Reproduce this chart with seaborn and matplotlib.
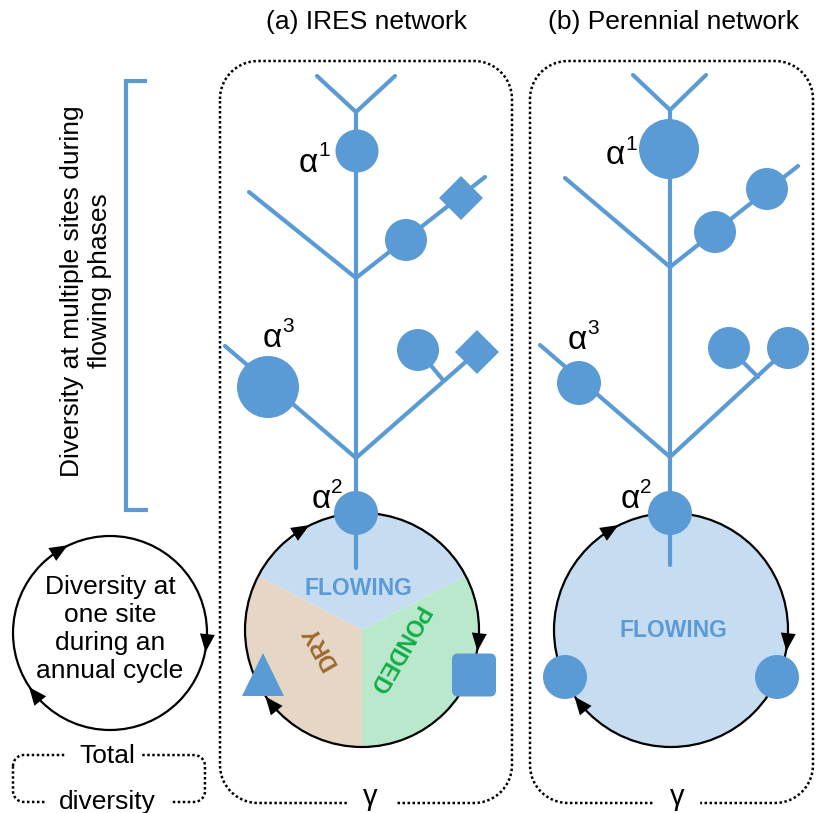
import numpy as np
import matplotlib
matplotlib.use("Agg")
import matplotlib.pyplot as plt
from matplotlib.patches import Circle, Wedge, Polygon, RegularPolygon, FancyBboxPatch
import seaborn as sns

sns.set_theme(style="white")
plt.rcParams['font.family'] = ['Liberation Sans', 'DejaVu Sans']
plt.rcParams['text.color'] = 'black'

BLUE = '#5b9bd5'

# ---- diagram content (pixel coordinates, y down)
titles = ['(a) IRES network', '(b) Perennial network']
title_x = [366, 673]

branches_a = [((317, 76), (356, 112)), ((395, 76), (356, 112)), ((356, 112), (356, 568)),
              ((356, 278), (249, 192)), ((356, 278), (485, 177)),
              ((356, 458), (225, 346)), ((356, 458), (477, 352)), ((443, 380), (418, 350))]
branches_b = [((633, 75), (670, 110)), ((706, 75), (670, 110)), ((670, 110), (670, 565)),
              ((670, 267), (565, 178)), ((670, 267), (798, 166)),
              ((670, 457), (540, 345)), ((670, 457), (788, 348)), ((758, 377), (729, 348))]

nodes_a = [('circle', 357, 151, 21.5), ('circle', 406, 240, 21), ('diamond', 461, 198, 22),
           ('circle', 268, 387, 31), ('circle', 418, 350, 21), ('diamond', 477, 352, 22),
           ('circle', 356, 513, 22)]
nodes_b = [('circle', 669, 149, 30), ('circle', 715, 232, 21), ('circle', 767, 189, 21),
           ('circle', 579, 383, 22), ('circle', 729, 348, 21), ('circle', 788, 348, 21),
           ('circle', 670, 513, 22)]

alpha_a = [('1', 308, 163), ('3', 272, 338), ('2', 321, 499)]
alpha_b = [('1', 615, 156), ('3', 577, 340), ('2', 630, 499)]

# annual cycle (phases of the IRES site)
phases = ['FLOWING', 'PONDED', 'DRY']
phase_bounds = [(207.5, 332.5), (-27.5, 90), (90, 207.5)]
phase_fill = ['#c6dcf1', '#b9e8cd', '#e5d6c6']
phase_text = [BLUE, '#12ad45', '#9c6a2e']
phase_xy = [(358, 588), (398, 650), (320, 647)]
phase_rot = [0, -120, 120]

cycle_a = (362, 630, 117)
cycle_b = (671, 630, 117)
cycle_left = (110, 633, 97)
arrow_t = [-121, 6, 141]

site_marks_a = [('triangle', 263, 675), ('square', 474, 675)]
site_marks_b = [('circle', 565, 677), ('circle', 777, 677)]

fig = plt.figure(figsize=(8.16, 8.13), dpi=100)
ax = fig.add_axes([0, 0, 1, 1])
ax.set_xlim(0, 816)
ax.set_ylim(813, 0)
ax.axis('off')


def rounded_outline(x0, y0, x1, y1, r, top_gap=None, bottom_gap=None):
    def arc(cx, cy, a0, a1):
        t = np.radians(np.linspace(a0, a1, 40))
        return np.c_[cx + r * np.cos(t), cy + r * np.sin(t)]
    n = 300
    pts = np.vstack([arc(x0 + r, y0 + r, 180, 270),
                     np.c_[np.linspace(x0 + r, x1 - r, n), np.full(n, y0)],
                     arc(x1 - r, y0 + r, 270, 360),
                     np.c_[np.full(n, x1), np.linspace(y0 + r, y1 - r, n)],
                     arc(x1 - r, y1 - r, 0, 90),
                     np.c_[np.linspace(x1 - r, x0 + r, n), np.full(n, y1)],
                     arc(x0 + r, y1 - r, 90, 180),
                     np.c_[np.full(n, x0), np.linspace(y1 - r, y0 + r, n)]])
    if top_gap:
        m = np.isclose(pts[:, 1], y0) & (pts[:, 0] > top_gap[0]) & (pts[:, 0] < top_gap[1])
        pts[m] = np.nan
    if bottom_gap:
        m = np.isclose(pts[:, 1], y1) & (pts[:, 0] > bottom_gap[0]) & (pts[:, 0] < bottom_gap[1])
        pts[m] = np.nan
    ax.plot(pts[:, 0], pts[:, 1], color='black', lw=1.8, ls=(0, (1, 1)), zorder=1)


def cycle(cx, cy, r):
    ax.add_patch(Circle((cx, cy), r, fill=False, ec='black', lw=1.6, zorder=2))
    L, W = 18, 15
    for t in np.radians(arrow_t):
        p = np.array([cx + r * np.cos(t), cy + r * np.sin(t)])
        d = np.array([-np.sin(t), np.cos(t)])
        nrm = np.array([np.cos(t), np.sin(t)])
        tip = p + d * L / 2
        base = p - d * L / 2
        ax.add_patch(Polygon([tip, base + nrm * W / 2, base - nrm * W / 2],
                             closed=True, fc='black', ec='none', zorder=5))


def network(branches, nodes, alphas):
    for (p, q) in branches:
        ax.plot([p[0], q[0]], [p[1], q[1]], color=BLUE, lw=3, solid_capstyle='round', zorder=3)
    for kind, x, y, r in nodes:
        if kind == 'circle':
            ax.add_patch(Circle((x, y), r, fc=BLUE, ec='none', zorder=4))
        else:
            ax.add_patch(RegularPolygon((x, y), 4, radius=r, orientation=0,
                                        fc=BLUE, ec='none', zorder=4))
    for sup, x, y in alphas:
        ax.text(x, y, 'α', fontsize=24, ha='center', va='center', zorder=6)
        ax.text(x + 16, y - 12, sup, fontsize=15, ha='center', va='center', zorder=6)


def site_marks(marks):
    for kind, x, y in marks:
        if kind == 'triangle':
            ax.add_patch(Polygon([(x, y - 22), (x - 21, y + 21), (x + 21, y + 21)],
                                 closed=True, fc=BLUE, ec='none', zorder=4))
        elif kind == 'square':
            ax.add_patch(FancyBboxPatch((x - 22, y - 21.5), 44, 43,
                                        boxstyle='round,pad=0,rounding_size=6',
                                        fc=BLUE, ec='none', zorder=4))
        else:
            ax.add_patch(Circle((x, y), 22, fc=BLUE, ec='none', zorder=4))


# titles
for t, x in zip(titles, title_x):
    ax.text(x, 22, t, fontsize=19, ha='center', va='center')

# dotted network boxes with gamma
rounded_outline(220, 61, 512, 803, 38, bottom_gap=(347, 395))
rounded_outline(530, 61, 813, 803, 38, bottom_gap=(653, 700))
ax.text(370, 797, 'γ', fontsize=21, ha='center', va='center')
ax.text(677, 797, 'γ', fontsize=21, ha='center', va='center')

# (a) IRES: three-phase cycle
cx, cy, r = cycle_a
for name, (t0, t1), fc, tc, (tx, ty), rot in zip(phases, phase_bounds, phase_fill,
                                                  phase_text, phase_xy, phase_rot):
    ax.add_patch(Wedge((cx, cy), r, t0, t1, fc=fc, ec='none', zorder=1))
    ax.text(tx, ty, name, fontsize=16.5, fontweight='bold', color=tc,
            rotation=rot, ha='center', va='center', zorder=3)
cycle(*cycle_a)
network(branches_a, nodes_a, alpha_a)
site_marks(site_marks_a)

# (b) perennial: flowing all year
cx, cy, r = cycle_b
ax.add_patch(Circle((cx, cy), r, fc=phase_fill[0], ec='none', zorder=1))
ax.text(673, 630, phases[0], fontsize=16.5, fontweight='bold', color=BLUE,
        ha='center', va='center', zorder=3)
cycle(*cycle_b)
network(branches_b, nodes_b, alpha_b)
site_marks(site_marks_b)

# left legend: bracket for spatial diversity
ax.plot([147, 126, 126, 148], [81, 81, 510, 510], color=BLUE, lw=3,
        solid_joinstyle='miter', solid_capstyle='butt')
ax.text(72, 291, 'Diversity at multiple sites during', fontsize=19, rotation=90,
        ha='center', va='center')
ax.text(100, 281, 'flowing phases', fontsize=19, rotation=90, ha='center', va='center')

# left legend: temporal cycle
cycle(*cycle_left)
ax.text(110, 629, 'Diversity at\none site\nduring an\nannual cycle', fontsize=19,
        ha='center', va='center', linespacing=1.22)

# left legend: total diversity box
rounded_outline(13, 755, 205, 802, 11, top_gap=(66, 142), bottom_gap=(45, 170))
ax.text(107, 756, 'Total', fontsize=19, ha='center', va='center')
ax.text(107, 802, 'diversity', fontsize=19, ha='center', va='center')

fig.savefig('out.png', dpi=100)
